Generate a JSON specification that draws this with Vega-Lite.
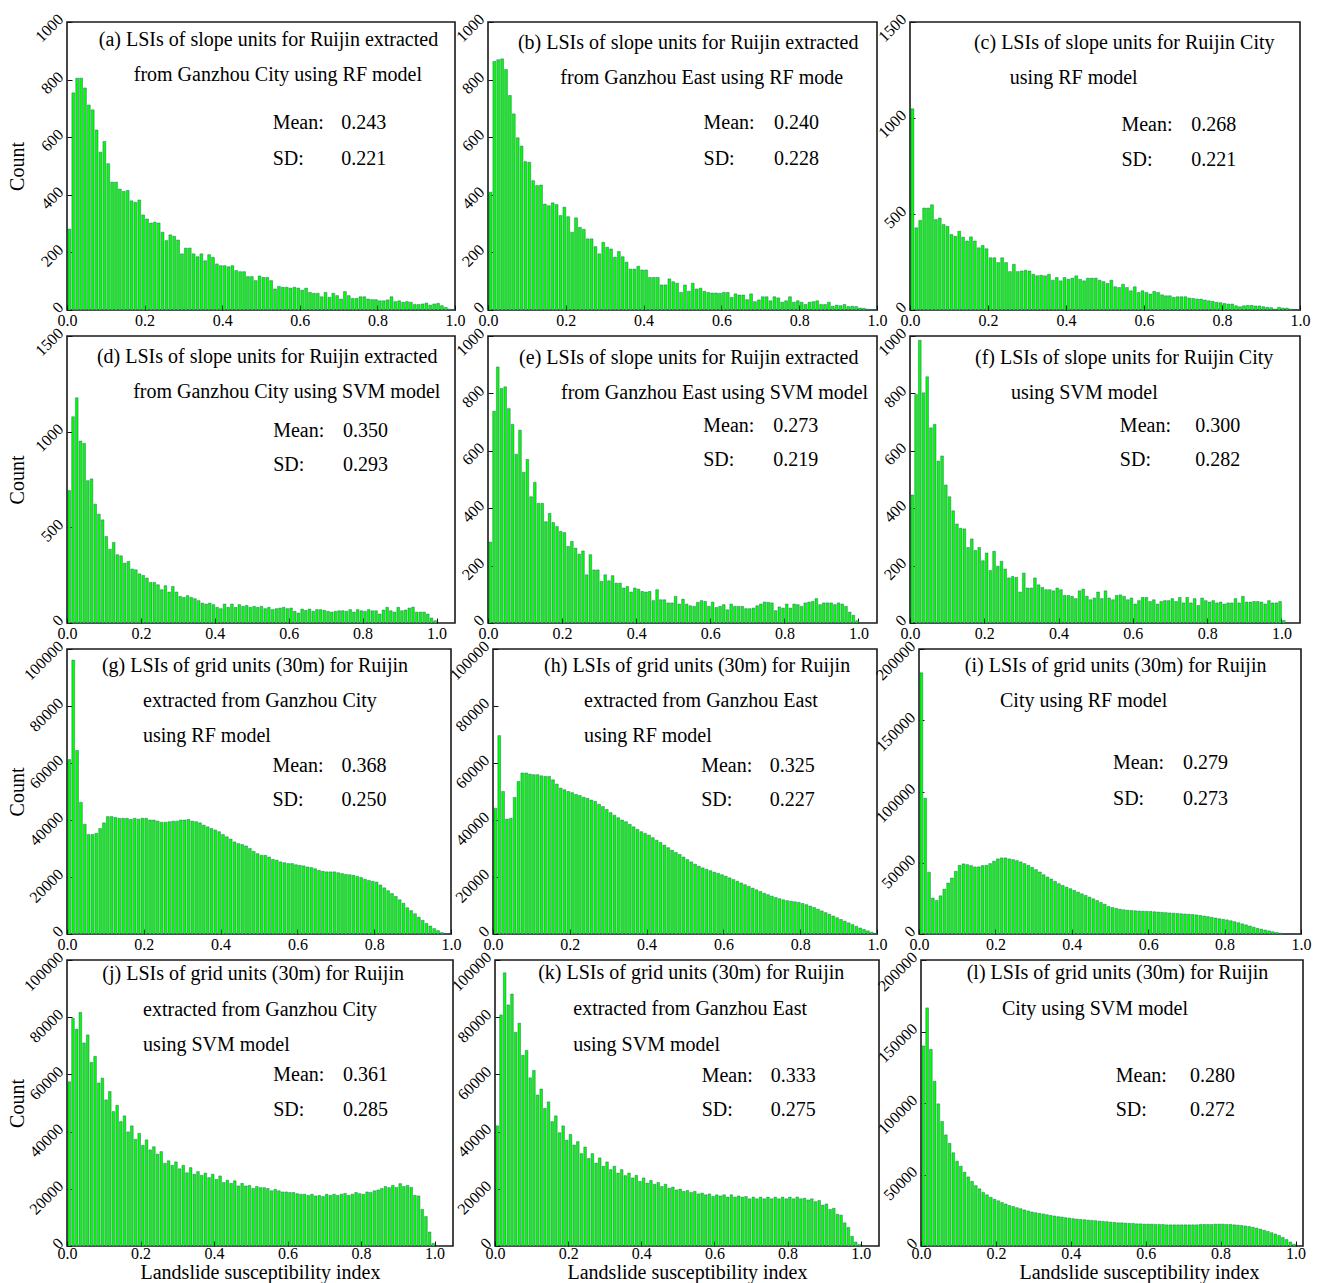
{
  "$schema": "https://vega.github.io/schema/vega-lite/v6.json",
  "background": "white",
  "padding": {"left": 6, "top": 9, "right": 5, "bottom": 2},
  "config": {
    "font": "Liberation Serif",
    "view": {"stroke": "#1a1a1a", "strokeWidth": 1.6},
    "axis": {"grid": false, "domain": false, "tickColor": "#111111", "tickSize": -5, "tickWidth": 1, "labelFontSize": 16, "labelColor": "#000000", "labelFont": "Liberation Serif", "titleFont": "Liberation Serif", "titleFontSize": 20, "titleFontWeight": "normal", "titleColor": "#000000", "labelFlush": false, "labelOverlap": false},
    "axisX": {"labelPadding": 7},
    "axisY": {"labelAngle": -45, "labelAlign": "right", "labelBaseline": "bottom", "labelPadding": 6},
    "bar": {"fill": "#00ff00", "stroke": "#2a3f80", "strokeWidth": 0.4},
    "text": {"font": "Liberation Serif", "fontSize": 20, "align": "left", "baseline": "middle", "color": "#000000"}
  },
  "datasets": {
    "a": [{"x":0.00,"n":281},{"x":0.01,"n":754},{"x":0.02,"n":805},{"x":0.03,"n":805},{"x":0.04,"n":771},{"x":0.05,"n":712},{"x":0.06,"n":695},{"x":0.07,"n":625},{"x":0.08,"n":548},{"x":0.09,"n":585},
          {"x":0.10,"n":508},{"x":0.11,"n":444},{"x":0.12,"n":444},{"x":0.13,"n":420},{"x":0.14,"n":412},{"x":0.15,"n":415},{"x":0.16,"n":379},{"x":0.17,"n":374},{"x":0.18,"n":382},{"x":0.19,"n":330},
          {"x":0.20,"n":316},{"x":0.21,"n":302},{"x":0.22,"n":305},{"x":0.23,"n":302},{"x":0.24,"n":270},{"x":0.25,"n":241},{"x":0.26,"n":261},{"x":0.27,"n":256},{"x":0.28,"n":243},{"x":0.29,"n":195},
          {"x":0.30,"n":215},{"x":0.31,"n":215},{"x":0.32,"n":195},{"x":0.33,"n":185},{"x":0.34,"n":195},{"x":0.35,"n":171},{"x":0.36,"n":192},{"x":0.37,"n":183},{"x":0.38,"n":160},{"x":0.39,"n":154},
          {"x":0.40,"n":154},{"x":0.41,"n":150},{"x":0.42,"n":154},{"x":0.43,"n":137},{"x":0.44,"n":133},{"x":0.45,"n":133},{"x":0.46,"n":116},{"x":0.47,"n":116},{"x":0.48,"n":102},{"x":0.49,"n":118},
          {"x":0.50,"n":113},{"x":0.51,"n":113},{"x":0.52,"n":102},{"x":0.53,"n":73},{"x":0.54,"n":82},{"x":0.55,"n":79},{"x":0.56,"n":79},{"x":0.57,"n":76},{"x":0.58,"n":79},{"x":0.59,"n":76},
          {"x":0.60,"n":69},{"x":0.61,"n":76},{"x":0.62,"n":61},{"x":0.63,"n":58},{"x":0.64,"n":58},{"x":0.65,"n":46},{"x":0.66,"n":61},{"x":0.67,"n":44},{"x":0.68,"n":58},{"x":0.69,"n":50},
          {"x":0.70,"n":38},{"x":0.71,"n":64},{"x":0.72,"n":50},{"x":0.73,"n":40},{"x":0.74,"n":40},{"x":0.75,"n":46},{"x":0.76,"n":46},{"x":0.77,"n":38},{"x":0.78,"n":36},{"x":0.79,"n":36},
          {"x":0.80,"n":32},{"x":0.81,"n":32},{"x":0.82,"n":35},{"x":0.83,"n":46},{"x":0.84,"n":29},{"x":0.85,"n":32},{"x":0.86,"n":27},{"x":0.87,"n":29},{"x":0.88,"n":27},{"x":0.89,"n":19},
          {"x":0.90,"n":19},{"x":0.91,"n":21},{"x":0.92,"n":24},{"x":0.93,"n":17},{"x":0.94,"n":21},{"x":0.95,"n":23},{"x":0.96,"n":15},{"x":0.97,"n":9},{"x":0.98,"n":3},{"x":0.99,"n":1}],
    "b": [{"x":0.00,"n":409},{"x":0.01,"n":863},{"x":0.02,"n":869},{"x":0.03,"n":872},{"x":0.04,"n":835},{"x":0.05,"n":745},{"x":0.06,"n":681},{"x":0.07,"n":598},{"x":0.08,"n":569},{"x":0.09,"n":515},
          {"x":0.10,"n":513},{"x":0.11,"n":449},{"x":0.12,"n":432},{"x":0.13,"n":434},{"x":0.14,"n":368},{"x":0.15,"n":362},{"x":0.16,"n":372},{"x":0.17,"n":366},{"x":0.18,"n":328},{"x":0.19,"n":357},
          {"x":0.20,"n":324},{"x":0.21,"n":270},{"x":0.22,"n":320},{"x":0.23,"n":287},{"x":0.24,"n":280},{"x":0.25,"n":247},{"x":0.26,"n":247},{"x":0.27,"n":220},{"x":0.28,"n":195},{"x":0.29,"n":235},
          {"x":0.30,"n":218},{"x":0.31,"n":212},{"x":0.32,"n":183},{"x":0.33,"n":203},{"x":0.34,"n":185},{"x":0.35,"n":166},{"x":0.36,"n":142},{"x":0.37,"n":142},{"x":0.38,"n":152},{"x":0.39,"n":139},
          {"x":0.40,"n":139},{"x":0.41,"n":113},{"x":0.42,"n":113},{"x":0.43,"n":113},{"x":0.44,"n":87},{"x":0.45,"n":87},{"x":0.46,"n":108},{"x":0.47,"n":98},{"x":0.48,"n":93},{"x":0.49,"n":61},
          {"x":0.50,"n":87},{"x":0.51,"n":65},{"x":0.52,"n":93},{"x":0.53,"n":73},{"x":0.54,"n":76},{"x":0.55,"n":65},{"x":0.56,"n":61},{"x":0.57,"n":59},{"x":0.58,"n":59},{"x":0.59,"n":58},
          {"x":0.60,"n":61},{"x":0.61,"n":61},{"x":0.62,"n":44},{"x":0.63,"n":56},{"x":0.64,"n":52},{"x":0.65,"n":52},{"x":0.66,"n":36},{"x":0.67,"n":56},{"x":0.68,"n":29},{"x":0.69,"n":35},
          {"x":0.70,"n":46},{"x":0.71,"n":46},{"x":0.72,"n":32},{"x":0.73,"n":46},{"x":0.74,"n":42},{"x":0.75,"n":27},{"x":0.76,"n":32},{"x":0.77,"n":46},{"x":0.78,"n":27},{"x":0.79,"n":32},
          {"x":0.80,"n":27},{"x":0.81,"n":19},{"x":0.82,"n":27},{"x":0.83,"n":29},{"x":0.84,"n":32},{"x":0.85,"n":19},{"x":0.86,"n":19},{"x":0.87,"n":27},{"x":0.88,"n":13},{"x":0.89,"n":17},
          {"x":0.90,"n":15},{"x":0.91,"n":19},{"x":0.92,"n":12},{"x":0.93,"n":13},{"x":0.94,"n":12},{"x":0.95,"n":7},{"x":0.96,"n":6},{"x":0.97,"n":3},{"x":0.98,"n":2},{"x":0.99,"n":1}],
    "c": [{"x":0.00,"n":1048},{"x":0.01,"n":428},{"x":0.02,"n":467},{"x":0.03,"n":531},{"x":0.04,"n":531},{"x":0.05,"n":548},{"x":0.06,"n":471},{"x":0.07,"n":479},{"x":0.08,"n":445},{"x":0.09,"n":436},
          {"x":0.10,"n":393},{"x":0.11,"n":384},{"x":0.12,"n":410},{"x":0.13,"n":379},{"x":0.14,"n":359},{"x":0.15,"n":381},{"x":0.16,"n":359},{"x":0.17,"n":324},{"x":0.18,"n":336},{"x":0.19,"n":319},
          {"x":0.20,"n":272},{"x":0.21,"n":272},{"x":0.22,"n":247},{"x":0.23,"n":272},{"x":0.24,"n":247},{"x":0.25,"n":200},{"x":0.26,"n":238},{"x":0.27,"n":200},{"x":0.28,"n":203},{"x":0.29,"n":207},
          {"x":0.30,"n":203},{"x":0.31,"n":186},{"x":0.32,"n":178},{"x":0.33,"n":181},{"x":0.34,"n":178},{"x":0.35,"n":186},{"x":0.36,"n":155},{"x":0.37,"n":169},{"x":0.38,"n":152},{"x":0.39,"n":169},
          {"x":0.40,"n":160},{"x":0.41,"n":166},{"x":0.42,"n":178},{"x":0.43,"n":160},{"x":0.44,"n":152},{"x":0.45,"n":166},{"x":0.46,"n":166},{"x":0.47,"n":166},{"x":0.48,"n":155},{"x":0.49,"n":148},
          {"x":0.50,"n":138},{"x":0.51,"n":155},{"x":0.52,"n":121},{"x":0.53,"n":117},{"x":0.54,"n":134},{"x":0.55,"n":117},{"x":0.56,"n":100},{"x":0.57,"n":121},{"x":0.58,"n":91},{"x":0.59,"n":100},
          {"x":0.60,"n":91},{"x":0.61,"n":83},{"x":0.62,"n":97},{"x":0.63,"n":91},{"x":0.64,"n":79},{"x":0.65,"n":74},{"x":0.66,"n":74},{"x":0.67,"n":66},{"x":0.68,"n":69},{"x":0.69,"n":69},
          {"x":0.70,"n":69},{"x":0.71,"n":62},{"x":0.72,"n":60},{"x":0.73,"n":57},{"x":0.74,"n":57},{"x":0.75,"n":52},{"x":0.76,"n":48},{"x":0.77,"n":45},{"x":0.78,"n":40},{"x":0.79,"n":38},
          {"x":0.80,"n":34},{"x":0.81,"n":31},{"x":0.82,"n":31},{"x":0.83,"n":22},{"x":0.84,"n":17},{"x":0.85,"n":22},{"x":0.86,"n":24},{"x":0.87,"n":24},{"x":0.88,"n":21},{"x":0.89,"n":21},
          {"x":0.90,"n":17},{"x":0.91,"n":14},{"x":0.92,"n":12},{"x":0.93,"n":5},{"x":0.94,"n":14},{"x":0.95,"n":10},{"x":0.96,"n":10},{"x":0.97,"n":5},{"x":0.98,"n":2},{"x":0.99,"n":2}],
    "d": [{"x":0.00,"n":692},{"x":0.01,"n":1078},{"x":0.02,"n":1177},{"x":0.03,"n":951},{"x":0.04,"n":939},{"x":0.05,"n":744},{"x":0.06,"n":753},{"x":0.07,"n":621},{"x":0.08,"n":569},{"x":0.09,"n":539},
          {"x":0.10,"n":452},{"x":0.11,"n":386},{"x":0.12,"n":421},{"x":0.13,"n":357},{"x":0.14,"n":351},{"x":0.15,"n":313},{"x":0.16,"n":322},{"x":0.17,"n":282},{"x":0.18,"n":278},{"x":0.19,"n":257},
          {"x":0.20,"n":249},{"x":0.21,"n":235},{"x":0.22,"n":212},{"x":0.23,"n":212},{"x":0.24,"n":200},{"x":0.25,"n":174},{"x":0.26,"n":195},{"x":0.27,"n":162},{"x":0.28,"n":191},{"x":0.29,"n":162},
          {"x":0.30,"n":139},{"x":0.31,"n":134},{"x":0.32,"n":143},{"x":0.33,"n":134},{"x":0.34,"n":127},{"x":0.35,"n":117},{"x":0.36,"n":104},{"x":0.37,"n":99},{"x":0.38,"n":104},{"x":0.39,"n":96},
          {"x":0.40,"n":82},{"x":0.41,"n":75},{"x":0.42,"n":99},{"x":0.43,"n":82},{"x":0.44,"n":99},{"x":0.45,"n":82},{"x":0.46,"n":96},{"x":0.47,"n":87},{"x":0.48,"n":92},{"x":0.49,"n":82},
          {"x":0.50,"n":87},{"x":0.51,"n":82},{"x":0.52,"n":87},{"x":0.53,"n":75},{"x":0.54,"n":82},{"x":0.55,"n":70},{"x":0.56,"n":75},{"x":0.57,"n":78},{"x":0.58,"n":82},{"x":0.59,"n":75},
          {"x":0.60,"n":78},{"x":0.61,"n":61},{"x":0.62,"n":52},{"x":0.63,"n":73},{"x":0.64,"n":66},{"x":0.65,"n":73},{"x":0.66,"n":61},{"x":0.67,"n":70},{"x":0.68,"n":70},{"x":0.69,"n":66},
          {"x":0.70,"n":61},{"x":0.71,"n":57},{"x":0.72,"n":61},{"x":0.73,"n":64},{"x":0.74,"n":64},{"x":0.75,"n":61},{"x":0.76,"n":70},{"x":0.77,"n":57},{"x":0.78,"n":70},{"x":0.79,"n":64},
          {"x":0.80,"n":61},{"x":0.81,"n":70},{"x":0.82,"n":64},{"x":0.83,"n":64},{"x":0.84,"n":47},{"x":0.85,"n":68},{"x":0.86,"n":82},{"x":0.87,"n":64},{"x":0.88,"n":57},{"x":0.89,"n":82},
          {"x":0.90,"n":64},{"x":0.91,"n":68},{"x":0.92,"n":78},{"x":0.93,"n":83},{"x":0.94,"n":57},{"x":0.95,"n":57},{"x":0.96,"n":57},{"x":0.97,"n":47},{"x":0.98,"n":26},{"x":0.99,"n":12}],
    "e": [{"x":0.00,"n":282},{"x":0.01,"n":738},{"x":0.02,"n":892},{"x":0.03,"n":817},{"x":0.04,"n":823},{"x":0.05,"n":747},{"x":0.06,"n":692},{"x":0.07,"n":588},{"x":0.08,"n":672},{"x":0.09,"n":525},
          {"x":0.10,"n":570},{"x":0.11,"n":440},{"x":0.12,"n":490},{"x":0.13,"n":417},{"x":0.14,"n":417},{"x":0.15,"n":353},{"x":0.16,"n":382},{"x":0.17,"n":350},{"x":0.18,"n":336},{"x":0.19,"n":319},
          {"x":0.20,"n":315},{"x":0.21,"n":267},{"x":0.22,"n":284},{"x":0.23,"n":261},{"x":0.24,"n":240},{"x":0.25,"n":251},{"x":0.26,"n":168},{"x":0.27,"n":238},{"x":0.28,"n":185},{"x":0.29,"n":185},
          {"x":0.30,"n":145},{"x":0.31,"n":168},{"x":0.32,"n":147},{"x":0.33,"n":165},{"x":0.34,"n":139},{"x":0.35,"n":139},{"x":0.36,"n":122},{"x":0.37,"n":127},{"x":0.38,"n":108},{"x":0.39,"n":122},
          {"x":0.40,"n":118},{"x":0.41,"n":110},{"x":0.42,"n":108},{"x":0.43,"n":110},{"x":0.44,"n":78},{"x":0.45,"n":116},{"x":0.46,"n":81},{"x":0.47,"n":81},{"x":0.48,"n":70},{"x":0.49,"n":70},
          {"x":0.50,"n":93},{"x":0.51,"n":66},{"x":0.52,"n":83},{"x":0.53,"n":66},{"x":0.54,"n":60},{"x":0.55,"n":58},{"x":0.56,"n":72},{"x":0.57,"n":78},{"x":0.58,"n":75},{"x":0.59,"n":58},
          {"x":0.60,"n":73},{"x":0.61,"n":54},{"x":0.62,"n":58},{"x":0.63,"n":64},{"x":0.64,"n":46},{"x":0.65,"n":66},{"x":0.66,"n":58},{"x":0.67,"n":58},{"x":0.68,"n":58},{"x":0.69,"n":50},
          {"x":0.70,"n":50},{"x":0.71,"n":52},{"x":0.72,"n":60},{"x":0.73,"n":66},{"x":0.74,"n":73},{"x":0.75,"n":72},{"x":0.76,"n":70},{"x":0.77,"n":43},{"x":0.78,"n":56},{"x":0.79,"n":52},
          {"x":0.80,"n":66},{"x":0.81,"n":52},{"x":0.82,"n":66},{"x":0.83,"n":64},{"x":0.84,"n":58},{"x":0.85,"n":70},{"x":0.86,"n":73},{"x":0.87,"n":75},{"x":0.88,"n":85},{"x":0.89,"n":64},
          {"x":0.90,"n":70},{"x":0.91,"n":70},{"x":0.92,"n":70},{"x":0.93,"n":64},{"x":0.94,"n":70},{"x":0.95,"n":66},{"x":0.96,"n":58},{"x":0.97,"n":38},{"x":0.98,"n":27},{"x":0.99,"n":8}],
    "f": [{"x":0.00,"n":446},{"x":0.01,"n":796},{"x":0.02,"n":985},{"x":0.03,"n":802},{"x":0.04,"n":858},{"x":0.05,"n":680},{"x":0.06,"n":692},{"x":0.07,"n":564},{"x":0.08,"n":582},{"x":0.09,"n":481},
          {"x":0.10,"n":440},{"x":0.11,"n":391},{"x":0.12,"n":345},{"x":0.13,"n":330},{"x":0.14,"n":328},{"x":0.15,"n":263},{"x":0.16,"n":293},{"x":0.17,"n":253},{"x":0.18,"n":263},{"x":0.19,"n":217},
          {"x":0.20,"n":244},{"x":0.21,"n":183},{"x":0.22,"n":250},{"x":0.23,"n":198},{"x":0.24,"n":215},{"x":0.25,"n":188},{"x":0.26,"n":157},{"x":0.27,"n":162},{"x":0.28,"n":159},{"x":0.29,"n":108},
          {"x":0.30,"n":174},{"x":0.31,"n":122},{"x":0.32,"n":122},{"x":0.33,"n":157},{"x":0.34,"n":133},{"x":0.35,"n":124},{"x":0.36,"n":116},{"x":0.37,"n":116},{"x":0.38,"n":112},{"x":0.39,"n":122},
          {"x":0.40,"n":116},{"x":0.41,"n":96},{"x":0.42,"n":96},{"x":0.43,"n":93},{"x":0.44,"n":85},{"x":0.45,"n":112},{"x":0.46,"n":118},{"x":0.47,"n":93},{"x":0.48,"n":81},{"x":0.49,"n":87},
          {"x":0.50,"n":108},{"x":0.51,"n":85},{"x":0.52,"n":112},{"x":0.53,"n":87},{"x":0.54,"n":81},{"x":0.55,"n":96},{"x":0.56,"n":98},{"x":0.57,"n":93},{"x":0.58,"n":81},{"x":0.59,"n":87},
          {"x":0.60,"n":66},{"x":0.61,"n":78},{"x":0.62,"n":89},{"x":0.63,"n":89},{"x":0.64,"n":75},{"x":0.65,"n":81},{"x":0.66,"n":66},{"x":0.67,"n":75},{"x":0.68,"n":78},{"x":0.69,"n":78},
          {"x":0.70,"n":85},{"x":0.71,"n":75},{"x":0.72,"n":89},{"x":0.73,"n":70},{"x":0.74,"n":89},{"x":0.75,"n":70},{"x":0.76,"n":85},{"x":0.77,"n":61},{"x":0.78,"n":87},{"x":0.79,"n":78},
          {"x":0.80,"n":73},{"x":0.81,"n":78},{"x":0.82,"n":70},{"x":0.83,"n":73},{"x":0.84,"n":66},{"x":0.85,"n":70},{"x":0.86,"n":70},{"x":0.87,"n":85},{"x":0.88,"n":70},{"x":0.89,"n":93},
          {"x":0.90,"n":73},{"x":0.91,"n":73},{"x":0.92,"n":75},{"x":0.93,"n":75},{"x":0.94,"n":73},{"x":0.95,"n":66},{"x":0.96,"n":78},{"x":0.97,"n":70},{"x":0.98,"n":70},{"x":0.99,"n":75},{"x":1.00,"n":9}],
    "g": [{"x":0.00,"n":61200},{"x":0.01,"n":96100},{"x":0.02,"n":64400},{"x":0.03,"n":46200},{"x":0.04,"n":38500},{"x":0.05,"n":34900},{"x":0.06,"n":34900},{"x":0.07,"n":35300},{"x":0.08,"n":37000},{"x":0.09,"n":39000},
          {"x":0.10,"n":41200},{"x":0.11,"n":41200},{"x":0.12,"n":40900},{"x":0.13,"n":40600},{"x":0.14,"n":40600},{"x":0.15,"n":40600},{"x":0.16,"n":40200},{"x":0.17,"n":40600},{"x":0.18,"n":40300},{"x":0.19,"n":40600},
          {"x":0.20,"n":40600},{"x":0.21,"n":40000},{"x":0.22,"n":40000},{"x":0.23,"n":39600},{"x":0.24,"n":39200},{"x":0.25,"n":39200},{"x":0.26,"n":39400},{"x":0.27,"n":39600},{"x":0.28,"n":39600},{"x":0.29,"n":40000},
          {"x":0.30,"n":40000},{"x":0.31,"n":40200},{"x":0.32,"n":39600},{"x":0.33,"n":39400},{"x":0.34,"n":39000},{"x":0.35,"n":38200},{"x":0.36,"n":37600},{"x":0.37,"n":37000},{"x":0.38,"n":36500},{"x":0.39,"n":35900},
          {"x":0.40,"n":34900},{"x":0.41,"n":34100},{"x":0.42,"n":33300},{"x":0.43,"n":32300},{"x":0.44,"n":31700},{"x":0.45,"n":31400},{"x":0.46,"n":30900},{"x":0.47,"n":30000},{"x":0.48,"n":29000},{"x":0.49,"n":28200},
          {"x":0.50,"n":27600},{"x":0.51,"n":27600},{"x":0.52,"n":27000},{"x":0.53,"n":26200},{"x":0.54,"n":25900},{"x":0.55,"n":25300},{"x":0.56,"n":25000},{"x":0.57,"n":24700},{"x":0.58,"n":24700},{"x":0.59,"n":24300},
          {"x":0.60,"n":24100},{"x":0.61,"n":23900},{"x":0.62,"n":23500},{"x":0.63,"n":23300},{"x":0.64,"n":22900},{"x":0.65,"n":22300},{"x":0.66,"n":22000},{"x":0.67,"n":21800},{"x":0.68,"n":21800},{"x":0.69,"n":21800},
          {"x":0.70,"n":21500},{"x":0.71,"n":21200},{"x":0.72,"n":20900},{"x":0.73,"n":20800},{"x":0.74,"n":20600},{"x":0.75,"n":20200},{"x":0.76,"n":19800},{"x":0.77,"n":19200},{"x":0.78,"n":18800},{"x":0.79,"n":18500},
          {"x":0.80,"n":18200},{"x":0.81,"n":17200},{"x":0.82,"n":16200},{"x":0.83,"n":15200},{"x":0.84,"n":14200},{"x":0.85,"n":13200},{"x":0.86,"n":12000},{"x":0.87,"n":10800},{"x":0.88,"n":9200},{"x":0.89,"n":8200},
          {"x":0.90,"n":7100},{"x":0.91,"n":5900},{"x":0.92,"n":4800},{"x":0.93,"n":3700},{"x":0.94,"n":2800},{"x":0.95,"n":1900},{"x":0.96,"n":1200},{"x":0.97,"n":500},{"x":0.98,"n":100},{"x":0.99,"n":0}],
    "h": [{"x":0.00,"n":44100},{"x":0.01,"n":69600},{"x":0.02,"n":50000},{"x":0.03,"n":40300},{"x":0.04,"n":40600},{"x":0.05,"n":47900},{"x":0.06,"n":53500},{"x":0.07,"n":56500},{"x":0.08,"n":56500},{"x":0.09,"n":56100},
          {"x":0.10,"n":55900},{"x":0.11,"n":55900},{"x":0.12,"n":55500},{"x":0.13,"n":55300},{"x":0.14,"n":55300},{"x":0.15,"n":54100},{"x":0.16,"n":52600},{"x":0.17,"n":51200},{"x":0.18,"n":50600},{"x":0.19,"n":50000},
          {"x":0.20,"n":49600},{"x":0.21,"n":49000},{"x":0.22,"n":48600},{"x":0.23,"n":48000},{"x":0.24,"n":47600},{"x":0.25,"n":47000},{"x":0.26,"n":46500},{"x":0.27,"n":45500},{"x":0.28,"n":44700},{"x":0.29,"n":43700},
          {"x":0.30,"n":42600},{"x":0.31,"n":41700},{"x":0.32,"n":40800},{"x":0.33,"n":40000},{"x":0.34,"n":39400},{"x":0.35,"n":38500},{"x":0.36,"n":37600},{"x":0.37,"n":36700},{"x":0.38,"n":35900},{"x":0.39,"n":35300},
          {"x":0.40,"n":34700},{"x":0.41,"n":33800},{"x":0.42,"n":32900},{"x":0.43,"n":32100},{"x":0.44,"n":31200},{"x":0.45,"n":30300},{"x":0.46,"n":29400},{"x":0.47,"n":28600},{"x":0.48,"n":27900},{"x":0.49,"n":27000},
          {"x":0.50,"n":26100},{"x":0.51,"n":25300},{"x":0.52,"n":24500},{"x":0.53,"n":23800},{"x":0.54,"n":23200},{"x":0.55,"n":22700},{"x":0.56,"n":22200},{"x":0.57,"n":21700},{"x":0.58,"n":21300},{"x":0.59,"n":20800},
          {"x":0.60,"n":20300},{"x":0.61,"n":19700},{"x":0.62,"n":19100},{"x":0.63,"n":18500},{"x":0.64,"n":17900},{"x":0.65,"n":17300},{"x":0.66,"n":16700},{"x":0.67,"n":16100},{"x":0.68,"n":15500},{"x":0.69,"n":14900},
          {"x":0.70,"n":14300},{"x":0.71,"n":13800},{"x":0.72,"n":13300},{"x":0.73,"n":12800},{"x":0.74,"n":12400},{"x":0.75,"n":12000},{"x":0.76,"n":11700},{"x":0.77,"n":11500},{"x":0.78,"n":11300},{"x":0.79,"n":11100},
          {"x":0.80,"n":10700},{"x":0.81,"n":10300},{"x":0.82,"n":9800},{"x":0.83,"n":9300},{"x":0.84,"n":8700},{"x":0.85,"n":8100},{"x":0.86,"n":7500},{"x":0.87,"n":6900},{"x":0.88,"n":6300},{"x":0.89,"n":5700},
          {"x":0.90,"n":5100},{"x":0.91,"n":4500},{"x":0.92,"n":3900},{"x":0.93,"n":3300},{"x":0.94,"n":2700},{"x":0.95,"n":2100},{"x":0.96,"n":1600},{"x":0.97,"n":1100},{"x":0.98,"n":600},{"x":0.99,"n":200}],
    "i": [{"x":0.00,"n":183300},{"x":0.01,"n":95300},{"x":0.02,"n":43300},{"x":0.03,"n":25200},{"x":0.04,"n":23500},{"x":0.05,"n":26800},{"x":0.06,"n":31500},{"x":0.07,"n":35800},{"x":0.08,"n":39300},{"x":0.09,"n":44000},
          {"x":0.10,"n":48200},{"x":0.11,"n":49200},{"x":0.12,"n":48700},{"x":0.13,"n":48000},{"x":0.14,"n":47100},{"x":0.15,"n":47100},{"x":0.16,"n":48000},{"x":0.17,"n":48200},{"x":0.18,"n":49400},{"x":0.19,"n":51100},
          {"x":0.20,"n":52700},{"x":0.21,"n":53400},{"x":0.22,"n":53400},{"x":0.23,"n":52700},{"x":0.24,"n":52200},{"x":0.25,"n":51500},{"x":0.26,"n":50600},{"x":0.27,"n":49400},{"x":0.28,"n":48200},{"x":0.29,"n":46800},
          {"x":0.30,"n":45200},{"x":0.31,"n":43500},{"x":0.32,"n":41600},{"x":0.33,"n":40000},{"x":0.34,"n":38600},{"x":0.35,"n":36900},{"x":0.36,"n":35300},{"x":0.37,"n":34100},{"x":0.38,"n":32900},{"x":0.39,"n":31800},
          {"x":0.40,"n":30600},{"x":0.41,"n":29400},{"x":0.42,"n":28200},{"x":0.43,"n":27100},{"x":0.44,"n":25900},{"x":0.45,"n":24700},{"x":0.46,"n":23500},{"x":0.47,"n":22100},{"x":0.48,"n":20900},{"x":0.49,"n":19300},
          {"x":0.50,"n":18600},{"x":0.51,"n":18000},{"x":0.52,"n":17400},{"x":0.53,"n":17000},{"x":0.54,"n":16700},{"x":0.55,"n":16500},{"x":0.56,"n":16300},{"x":0.57,"n":16100},{"x":0.58,"n":16000},{"x":0.59,"n":15900},
          {"x":0.60,"n":15800},{"x":0.61,"n":15600},{"x":0.62,"n":15400},{"x":0.63,"n":15200},{"x":0.64,"n":15000},{"x":0.65,"n":14800},{"x":0.66,"n":14600},{"x":0.67,"n":14400},{"x":0.68,"n":14200},{"x":0.69,"n":14000},
          {"x":0.70,"n":13900},{"x":0.71,"n":13700},{"x":0.72,"n":13400},{"x":0.73,"n":13000},{"x":0.74,"n":12600},{"x":0.75,"n":12200},{"x":0.76,"n":11700},{"x":0.77,"n":11200},{"x":0.78,"n":10700},{"x":0.79,"n":10300},
          {"x":0.80,"n":9900},{"x":0.81,"n":9300},{"x":0.82,"n":8600},{"x":0.83,"n":7900},{"x":0.84,"n":7100},{"x":0.85,"n":6400},{"x":0.86,"n":5600},{"x":0.87,"n":4800},{"x":0.88,"n":4000},{"x":0.89,"n":3400},
          {"x":0.90,"n":2800},{"x":0.91,"n":2200},{"x":0.92,"n":1600},{"x":0.93,"n":1100},{"x":0.94,"n":600},{"x":0.95,"n":200},{"x":0.96,"n":0},{"x":0.97,"n":0},{"x":0.98,"n":0},{"x":0.99,"n":0}],
    "j": [{"x":0.00,"n":57400},{"x":0.01,"n":79600},{"x":0.02,"n":75800},{"x":0.03,"n":81700},{"x":0.04,"n":71000},{"x":0.05,"n":73800},{"x":0.06,"n":64200},{"x":0.07,"n":66300},{"x":0.08,"n":57000},{"x":0.09,"n":58700},
          {"x":0.10,"n":51100},{"x":0.11,"n":54000},{"x":0.12,"n":47000},{"x":0.13,"n":49200},{"x":0.14,"n":43500},{"x":0.15,"n":45500},{"x":0.16,"n":39900},{"x":0.17,"n":42000},{"x":0.18,"n":37300},{"x":0.19,"n":39400},
          {"x":0.20,"n":35200},{"x":0.21,"n":37100},{"x":0.22,"n":33600},{"x":0.23,"n":34700},{"x":0.24,"n":32100},{"x":0.25,"n":33000},{"x":0.26,"n":28900},{"x":0.27,"n":29800},{"x":0.28,"n":28200},{"x":0.29,"n":29400},
          {"x":0.30,"n":27000},{"x":0.31,"n":28200},{"x":0.32,"n":25600},{"x":0.33,"n":27400},{"x":0.34,"n":25100},{"x":0.35,"n":26000},{"x":0.36,"n":24700},{"x":0.37,"n":25500},{"x":0.38,"n":23900},{"x":0.39,"n":25100},
          {"x":0.40,"n":23300},{"x":0.41,"n":24500},{"x":0.42,"n":22200},{"x":0.43,"n":23000},{"x":0.44,"n":21900},{"x":0.45,"n":22800},{"x":0.46,"n":21000},{"x":0.47,"n":21900},{"x":0.48,"n":21000},{"x":0.49,"n":21200},
          {"x":0.50,"n":20100},{"x":0.51,"n":20800},{"x":0.52,"n":20400},{"x":0.53,"n":20400},{"x":0.54,"n":20100},{"x":0.55,"n":19300},{"x":0.56,"n":19800},{"x":0.57,"n":19300},{"x":0.58,"n":18900},{"x":0.59,"n":18900},
          {"x":0.60,"n":18700},{"x":0.61,"n":18700},{"x":0.62,"n":18300},{"x":0.63,"n":18100},{"x":0.64,"n":18100},{"x":0.65,"n":17700},{"x":0.66,"n":18100},{"x":0.67,"n":17500},{"x":0.68,"n":17700},{"x":0.69,"n":17300},
          {"x":0.70,"n":18100},{"x":0.71,"n":17700},{"x":0.72,"n":18100},{"x":0.73,"n":17700},{"x":0.74,"n":18100},{"x":0.75,"n":18400},{"x":0.76,"n":17700},{"x":0.77,"n":18100},{"x":0.78,"n":18700},{"x":0.79,"n":18300},
          {"x":0.80,"n":18100},{"x":0.81,"n":18900},{"x":0.82,"n":18700},{"x":0.83,"n":19300},{"x":0.84,"n":19600},{"x":0.85,"n":20100},{"x":0.86,"n":20800},{"x":0.87,"n":20400},{"x":0.88,"n":21200},{"x":0.89,"n":20500},
          {"x":0.90,"n":21800},{"x":0.91,"n":20800},{"x":0.92,"n":21200},{"x":0.93,"n":20500},{"x":0.94,"n":17700},{"x":0.95,"n":17500},{"x":0.96,"n":12800},{"x":0.97,"n":10300},{"x":0.98,"n":4900},{"x":0.99,"n":900}],
    "k": [{"x":0.00,"n":42000},{"x":0.01,"n":80800},{"x":0.02,"n":95500},{"x":0.03,"n":84300},{"x":0.04,"n":88100},{"x":0.05,"n":74700},{"x":0.06,"n":77900},{"x":0.07,"n":66700},{"x":0.08,"n":68400},{"x":0.09,"n":58800},
          {"x":0.10,"n":61400},{"x":0.11,"n":52800},{"x":0.12,"n":54900},{"x":0.13,"n":48100},{"x":0.14,"n":50400},{"x":0.15,"n":43500},{"x":0.16,"n":45500},{"x":0.17,"n":39600},{"x":0.18,"n":42000},{"x":0.19,"n":37000},
          {"x":0.20,"n":39000},{"x":0.21,"n":35300},{"x":0.22,"n":36500},{"x":0.23,"n":32300},{"x":0.24,"n":34600},{"x":0.25,"n":30600},{"x":0.26,"n":32300},{"x":0.27,"n":29000},{"x":0.28,"n":30800},{"x":0.29,"n":27900},
          {"x":0.30,"n":29400},{"x":0.31,"n":26700},{"x":0.32,"n":27900},{"x":0.33,"n":25500},{"x":0.34,"n":26700},{"x":0.35,"n":24600},{"x":0.36,"n":25500},{"x":0.37,"n":23800},{"x":0.38,"n":24700},{"x":0.39,"n":22600},
          {"x":0.40,"n":23800},{"x":0.41,"n":22000},{"x":0.42,"n":22900},{"x":0.43,"n":21600},{"x":0.44,"n":22200},{"x":0.45,"n":20800},{"x":0.46,"n":21600},{"x":0.47,"n":20200},{"x":0.48,"n":20600},{"x":0.49,"n":19600},
          {"x":0.50,"n":19900},{"x":0.51,"n":19100},{"x":0.52,"n":19400},{"x":0.53,"n":18700},{"x":0.54,"n":19100},{"x":0.55,"n":18200},{"x":0.56,"n":18500},{"x":0.57,"n":17900},{"x":0.58,"n":18200},{"x":0.59,"n":17300},
          {"x":0.60,"n":17900},{"x":0.61,"n":17500},{"x":0.62,"n":17900},{"x":0.63,"n":17100},{"x":0.64,"n":17900},{"x":0.65,"n":17100},{"x":0.66,"n":17500},{"x":0.67,"n":17100},{"x":0.68,"n":17300},{"x":0.69,"n":16500},
          {"x":0.70,"n":17100},{"x":0.71,"n":16500},{"x":0.72,"n":17100},{"x":0.73,"n":16500},{"x":0.74,"n":17100},{"x":0.75,"n":16500},{"x":0.76,"n":17100},{"x":0.77,"n":16500},{"x":0.78,"n":17100},{"x":0.79,"n":16500},
          {"x":0.80,"n":17100},{"x":0.81,"n":16500},{"x":0.82,"n":17100},{"x":0.83,"n":16500},{"x":0.84,"n":16700},{"x":0.85,"n":16100},{"x":0.86,"n":16500},{"x":0.87,"n":15500},{"x":0.88,"n":15900},{"x":0.89,"n":14300},
          {"x":0.90,"n":14700},{"x":0.91,"n":12800},{"x":0.92,"n":13200},{"x":0.93,"n":11100},{"x":0.94,"n":10800},{"x":0.95,"n":8100},{"x":0.96,"n":6500},{"x":0.97,"n":3400},{"x":0.98,"n":1400},{"x":0.99,"n":500}],
    "l": [{"x":0.00,"n":139900},{"x":0.01,"n":166500},{"x":0.02,"n":137500},{"x":0.03,"n":115200},{"x":0.04,"n":99400},{"x":0.05,"n":87100},{"x":0.06,"n":77700},{"x":0.07,"n":71800},{"x":0.08,"n":65200},{"x":0.09,"n":59300},
          {"x":0.10,"n":55800},{"x":0.11,"n":51600},{"x":0.12,"n":48300},{"x":0.13,"n":45200},{"x":0.14,"n":42200},{"x":0.15,"n":40000},{"x":0.16,"n":37400},{"x":0.17,"n":35800},{"x":0.18,"n":34100},{"x":0.19,"n":32700},
          {"x":0.20,"n":31600},{"x":0.21,"n":30400},{"x":0.22,"n":29400},{"x":0.23,"n":28300},{"x":0.24,"n":27600},{"x":0.25,"n":26800},{"x":0.26,"n":26100},{"x":0.27,"n":25200},{"x":0.28,"n":24500},{"x":0.29,"n":23800},
          {"x":0.30,"n":23300},{"x":0.31,"n":22800},{"x":0.32,"n":22400},{"x":0.33,"n":21900},{"x":0.34,"n":21400},{"x":0.35,"n":21000},{"x":0.36,"n":20500},{"x":0.37,"n":20300},{"x":0.38,"n":19800},{"x":0.39,"n":19500},
          {"x":0.40,"n":19100},{"x":0.41,"n":18800},{"x":0.42,"n":18600},{"x":0.43,"n":18400},{"x":0.44,"n":18100},{"x":0.45,"n":17900},{"x":0.46,"n":17700},{"x":0.47,"n":17400},{"x":0.48,"n":17200},{"x":0.49,"n":17000},
          {"x":0.50,"n":16700},{"x":0.51,"n":16500},{"x":0.52,"n":16200},{"x":0.53,"n":16200},{"x":0.54,"n":16000},{"x":0.55,"n":15800},{"x":0.56,"n":15800},{"x":0.57,"n":15500},{"x":0.58,"n":15500},{"x":0.59,"n":15300},
          {"x":0.60,"n":15300},{"x":0.61,"n":15300},{"x":0.62,"n":15100},{"x":0.63,"n":15100},{"x":0.64,"n":15100},{"x":0.65,"n":14800},{"x":0.66,"n":14800},{"x":0.67,"n":14800},{"x":0.68,"n":14800},{"x":0.69,"n":14800},
          {"x":0.70,"n":14800},{"x":0.71,"n":14800},{"x":0.72,"n":14800},{"x":0.73,"n":14800},{"x":0.74,"n":15100},{"x":0.75,"n":15100},{"x":0.76,"n":15100},{"x":0.77,"n":15100},{"x":0.78,"n":15300},{"x":0.79,"n":15300},
          {"x":0.80,"n":15300},{"x":0.81,"n":15100},{"x":0.82,"n":15100},{"x":0.83,"n":14800},{"x":0.84,"n":14600},{"x":0.85,"n":14300},{"x":0.86,"n":14000},{"x":0.87,"n":13600},{"x":0.88,"n":13100},{"x":0.89,"n":12500},
          {"x":0.90,"n":11800},{"x":0.91,"n":11000},{"x":0.92,"n":10200},{"x":0.93,"n":9300},{"x":0.94,"n":8400},{"x":0.95,"n":7300},{"x":0.96,"n":6000},{"x":0.97,"n":4500},{"x":0.98,"n":2800},{"x":0.99,"n":1200}]
  },
  "columns": 1,
  "align": "none",
  "spacing": -6,
  "concat": [
    {
      "bounds": "flush", "spacing": 33,
      "hconcat": [
        {"width": 388, "height": 288, "layer": [
          {"data": {"name": "a"}, "mark": "bar", "encoding": {
            "x": {"field": "x", "type": "quantitative", "bin": {"binned": true, "step": 0.01}, "scale": {"domain": [0, 1]}, "axis": {"values": [0, 0.2, 0.4, 0.6, 0.8, 1], "format": ".1f", "title": null}},
            "y": {"field": "n", "type": "quantitative", "scale": {"domain": [0, 1000]}, "axis": {"values": [0, 200, 400, 600, 800, 1000], "format": "d", "title": "Count", "titleX": -40}}}},
          {"data": {"values": [
            {"t": "(a) LSIs of slope units for Ruijin extracted", "px": 0.082, "py": 937},
            {"t": "from Ganzhou City using RF model", "px": 0.172, "py": 815},
            {"t": "Mean:", "px": 0.53, "py": 648}, {"t": "0.243", "px": 0.707, "py": 648},
            {"t": "SD:", "px": 0.53, "py": 526}, {"t": "0.221", "px": 0.707, "py": 526}]},
           "mark": "text", "encoding": {"x": {"field": "px", "type": "quantitative", "scale": {"domain": [0, 1]}}, "y": {"field": "py", "type": "quantitative", "scale": {"domain": [0, 1000]}}, "text": {"field": "t"}}}
        ]},
        {"width": 389, "height": 288, "layer": [
          {"data": {"name": "b"}, "mark": "bar", "encoding": {
            "x": {"field": "x", "type": "quantitative", "bin": {"binned": true, "step": 0.01}, "scale": {"domain": [0, 1]}, "axis": {"values": [0, 0.2, 0.4, 0.6, 0.8, 1], "format": ".1f", "title": null}},
            "y": {"field": "n", "type": "quantitative", "scale": {"domain": [0, 1000]}, "axis": {"values": [0, 200, 400, 600, 800, 1000], "format": "d", "title": null}}}},
          {"data": {"values": [
            {"t": "(b) LSIs of slope units for Ruijin extracted", "px": 0.077, "py": 927},
            {"t": "from Ganzhou East using RF mode", "px": 0.186, "py": 805},
            {"t": "Mean:", "px": 0.554, "py": 648}, {"t": "0.240", "px": 0.735, "py": 648},
            {"t": "SD:", "px": 0.554, "py": 526}, {"t": "0.228", "px": 0.735, "py": 526}]},
           "mark": "text", "encoding": {"x": {"field": "px", "type": "quantitative", "scale": {"domain": [0, 1]}}, "y": {"field": "py", "type": "quantitative", "scale": {"domain": [0, 1000]}}, "text": {"field": "t"}}}
        ]},
        {"width": 390, "height": 288, "layer": [
          {"data": {"name": "c"}, "mark": "bar", "encoding": {
            "x": {"field": "x", "type": "quantitative", "bin": {"binned": true, "step": 0.01}, "scale": {"domain": [0, 1]}, "axis": {"values": [0, 0.2, 0.4, 0.6, 0.8, 1], "format": ".1f", "title": null}},
            "y": {"field": "n", "type": "quantitative", "scale": {"domain": [0, 1500]}, "axis": {"values": [0, 500, 1000, 1500], "format": "d", "title": null}}}},
          {"data": {"values": [
            {"t": "(c) LSIs of slope units for Ruijin City", "px": 0.164, "py": 1392},
            {"t": "using RF model", "px": 0.256, "py": 1210},
            {"t": "Mean:", "px": 0.542, "py": 962}, {"t": "0.268", "px": 0.721, "py": 962},
            {"t": "SD:", "px": 0.542, "py": 782}, {"t": "0.221", "px": 0.721, "py": 782}]},
           "mark": "text", "encoding": {"x": {"field": "px", "type": "quantitative", "scale": {"domain": [0, 1]}}, "y": {"field": "py", "type": "quantitative", "scale": {"domain": [0, 1500]}}, "text": {"field": "t"}}}
        ]}
      ]
    },
    {
      "bounds": "flush", "spacing": 33,
      "hconcat": [
        {"width": 388, "height": 287, "layer": [
          {"data": {"name": "d"}, "mark": "bar", "encoding": {
            "x": {"field": "x", "type": "quantitative", "bin": {"binned": true, "step": 0.01}, "scale": {"domain": [0, 1.05]}, "axis": {"values": [0, 0.2, 0.4, 0.6, 0.8, 1], "format": ".1f", "title": null}},
            "y": {"field": "n", "type": "quantitative", "scale": {"domain": [0, 1500]}, "axis": {"values": [0, 500, 1000, 1500], "format": "d", "title": "Count", "titleX": -40}}}},
          {"data": {"values": [
            {"t": "(d) LSIs of slope units for Ruijin extracted", "px": 0.081, "py": 1390},
            {"t": "from Ganzhou City using SVM model", "px": 0.179, "py": 1209},
            {"t": "Mean:", "px": 0.558, "py": 1006}, {"t": "0.350", "px": 0.747, "py": 1006},
            {"t": "SD:", "px": 0.558, "py": 825}, {"t": "0.293", "px": 0.747, "py": 825}]},
           "mark": "text", "encoding": {"x": {"field": "px", "type": "quantitative", "scale": {"domain": [0, 1.05]}}, "y": {"field": "py", "type": "quantitative", "scale": {"domain": [0, 1500]}}, "text": {"field": "t"}}}
        ]},
        {"width": 389, "height": 287, "layer": [
          {"data": {"name": "e"}, "mark": "bar", "encoding": {
            "x": {"field": "x", "type": "quantitative", "bin": {"binned": true, "step": 0.01}, "scale": {"domain": [0, 1.05]}, "axis": {"values": [0, 0.2, 0.4, 0.6, 0.8, 1], "format": ".1f", "title": null}},
            "y": {"field": "n", "type": "quantitative", "scale": {"domain": [0, 1000]}, "axis": {"values": [0, 200, 400, 600, 800, 1000], "format": "d", "title": null}}}},
          {"data": {"values": [
            {"t": "(e) LSIs of slope units for Ruijin extracted", "px": 0.084, "py": 924},
            {"t": "from Ganzhou East using SVM model", "px": 0.197, "py": 803},
            {"t": "Mean:", "px": 0.581, "py": 685}, {"t": "0.273", "px": 0.77, "py": 685},
            {"t": "SD:", "px": 0.581, "py": 567}, {"t": "0.219", "px": 0.77, "py": 567}]},
           "mark": "text", "encoding": {"x": {"field": "px", "type": "quantitative", "scale": {"domain": [0, 1.05]}}, "y": {"field": "py", "type": "quantitative", "scale": {"domain": [0, 1000]}}, "text": {"field": "t"}}}
        ]},
        {"width": 390, "height": 287, "layer": [
          {"data": {"name": "f"}, "mark": "bar", "encoding": {
            "x": {"field": "x", "type": "quantitative", "bin": {"binned": true, "step": 0.01}, "scale": {"domain": [0, 1.05]}, "axis": {"values": [0, 0.2, 0.4, 0.6, 0.8, 1], "format": ".1f", "title": null}},
            "y": {"field": "n", "type": "quantitative", "scale": {"domain": [0, 1000]}, "axis": {"values": [0, 200, 400, 600, 800, 1000], "format": "d", "title": null}}}},
          {"data": {"values": [
            {"t": "(f) LSIs of slope units for Ruijin City", "px": 0.175, "py": 924},
            {"t": "using SVM model", "px": 0.272, "py": 803},
            {"t": "Mean:", "px": 0.565, "py": 685}, {"t": "0.300", "px": 0.768, "py": 685},
            {"t": "SD:", "px": 0.565, "py": 567}, {"t": "0.282", "px": 0.768, "py": 567}]},
           "mark": "text", "encoding": {"x": {"field": "px", "type": "quantitative", "scale": {"domain": [0, 1.05]}}, "y": {"field": "py", "type": "quantitative", "scale": {"domain": [0, 1000]}}, "text": {"field": "t"}}}
        ]}
      ]
    },
    {
      "bounds": "flush", "spacing": 42,
      "hconcat": [
        {"width": 384, "height": 285, "layer": [
          {"data": {"name": "g"}, "mark": "bar", "encoding": {
            "x": {"field": "x", "type": "quantitative", "bin": {"binned": true, "step": 0.01}, "scale": {"domain": [0, 1]}, "axis": {"values": [0, 0.2, 0.4, 0.6, 0.8, 1], "format": ".1f", "title": null}},
            "y": {"field": "n", "type": "quantitative", "scale": {"domain": [0, 100000]}, "axis": {"values": [0, 20000, 40000, 60000, 80000, 100000], "format": "d", "title": "Count", "titleX": -40}}}},
          {"data": {"values": [
            {"t": "(g) LSIs of grid units (30m) for Ruijin", "px": 0.091, "py": 94000},
            {"t": "extracted from Ganzhou City", "px": 0.198, "py": 81600},
            {"t": "using RF model", "px": 0.198, "py": 69300},
            {"t": "Mean:", "px": 0.535, "py": 59000}, {"t": "0.368", "px": 0.715, "py": 59000},
            {"t": "SD:", "px": 0.535, "py": 47000}, {"t": "0.250", "px": 0.715, "py": 47000}]},
           "mark": "text", "encoding": {"x": {"field": "px", "type": "quantitative", "scale": {"domain": [0, 1]}}, "y": {"field": "py", "type": "quantitative", "scale": {"domain": [0, 100000]}}, "text": {"field": "t"}}}
        ]},
        {"width": 384, "height": 285, "layer": [
          {"data": {"name": "h"}, "mark": "bar", "encoding": {
            "x": {"field": "x", "type": "quantitative", "bin": {"binned": true, "step": 0.01}, "scale": {"domain": [0, 1]}, "axis": {"values": [0, 0.2, 0.4, 0.6, 0.8, 1], "format": ".1f", "title": null}},
            "y": {"field": "n", "type": "quantitative", "scale": {"domain": [0, 100000]}, "axis": {"values": [0, 20000, 40000, 60000, 80000, 100000], "format": "d", "title": null}}}},
          {"data": {"values": [
            {"t": "(h) LSIs of grid units (30m) for Ruijin", "px": 0.133, "py": 94000},
            {"t": "extracted from Ganzhou East", "px": 0.237, "py": 81600},
            {"t": "using RF model", "px": 0.237, "py": 69300},
            {"t": "Mean:", "px": 0.542, "py": 59000}, {"t": "0.325", "px": 0.721, "py": 59000},
            {"t": "SD:", "px": 0.542, "py": 47000}, {"t": "0.227", "px": 0.721, "py": 47000}]},
           "mark": "text", "encoding": {"x": {"field": "px", "type": "quantitative", "scale": {"domain": [0, 1]}}, "y": {"field": "py", "type": "quantitative", "scale": {"domain": [0, 100000]}}, "text": {"field": "t"}}}
        ]},
        {"width": 382, "height": 285, "layer": [
          {"data": {"name": "i"}, "mark": "bar", "encoding": {
            "x": {"field": "x", "type": "quantitative", "bin": {"binned": true, "step": 0.01}, "scale": {"domain": [0, 1]}, "axis": {"values": [0, 0.2, 0.4, 0.6, 0.8, 1], "format": ".1f", "title": null}},
            "y": {"field": "n", "type": "quantitative", "scale": {"domain": [0, 200000]}, "axis": {"values": [0, 50000, 100000, 150000, 200000], "format": "d", "title": null}}}},
          {"data": {"values": [
            {"t": "(i) LSIs of grid units (30m) for Ruijin", "px": 0.12, "py": 188000},
            {"t": "City using RF model", "px": 0.212, "py": 163400},
            {"t": "Mean:", "px": 0.508, "py": 119800}, {"t": "0.279", "px": 0.691, "py": 119800},
            {"t": "SD:", "px": 0.508, "py": 95000}, {"t": "0.273", "px": 0.691, "py": 95000}]},
           "mark": "text", "encoding": {"x": {"field": "px", "type": "quantitative", "scale": {"domain": [0, 1]}}, "y": {"field": "py", "type": "quantitative", "scale": {"domain": [0, 200000]}}, "text": {"field": "t"}}}
        ]}
      ]
    },
    {
      "bounds": "flush", "spacing": 42,
      "hconcat": [
        {"width": 386, "height": 286, "layer": [
          {"data": {"name": "j"}, "mark": "bar", "encoding": {
            "x": {"field": "x", "type": "quantitative", "bin": {"binned": true, "step": 0.01}, "scale": {"domain": [0, 1.05]}, "axis": {"values": [0, 0.2, 0.4, 0.6, 0.8, 1], "format": ".1f", "labelPadding": 4, "title": "Landslide susceptibility index", "titleFontSize": 20, "titleBaseline": "alphabetic", "titleY": 32}},
            "y": {"field": "n", "type": "quantitative", "scale": {"domain": [0, 100000]}, "axis": {"values": [0, 20000, 40000, 60000, 80000, 100000], "format": "d", "title": "Count", "titleX": -40}}}},
          {"data": {"values": [
            {"t": "(j) LSIs of grid units (30m) for Ruijin", "px": 0.096, "py": 95100},
            {"t": "extracted from Ganzhou City", "px": 0.207, "py": 82600},
            {"t": "using SVM model", "px": 0.207, "py": 70400},
            {"t": "Mean:", "px": 0.561, "py": 59900}, {"t": "0.361", "px": 0.751, "py": 59900},
            {"t": "SD:", "px": 0.561, "py": 47700}, {"t": "0.285", "px": 0.751, "py": 47700}]},
           "mark": "text", "encoding": {"x": {"field": "px", "type": "quantitative", "scale": {"domain": [0, 1.05]}}, "y": {"field": "py", "type": "quantitative", "scale": {"domain": [0, 100000]}}, "text": {"field": "t"}}}
        ]},
        {"width": 384, "height": 286, "layer": [
          {"data": {"name": "k"}, "mark": "bar", "encoding": {
            "x": {"field": "x", "type": "quantitative", "bin": {"binned": true, "step": 0.01}, "scale": {"domain": [0, 1.05]}, "axis": {"values": [0, 0.2, 0.4, 0.6, 0.8, 1], "format": ".1f", "labelPadding": 4, "title": "Landslide susceptibility index", "titleFontSize": 20, "titleBaseline": "alphabetic", "titleY": 32}},
            "y": {"field": "n", "type": "quantitative", "scale": {"domain": [0, 100000]}, "axis": {"values": [0, 20000, 40000, 60000, 80000, 100000], "format": "d", "title": null}}}},
          {"data": {"values": [
            {"t": "(k) LSIs of grid units (30m) for Ruijin", "px": 0.118, "py": 95400},
            {"t": "extracted from Ganzhou East", "px": 0.214, "py": 82700},
            {"t": "using SVM model", "px": 0.214, "py": 70400},
            {"t": "Mean:", "px": 0.565, "py": 59500}, {"t": "0.333", "px": 0.754, "py": 59500},
            {"t": "SD:", "px": 0.565, "py": 47500}, {"t": "0.275", "px": 0.754, "py": 47500}]},
           "mark": "text", "encoding": {"x": {"field": "px", "type": "quantitative", "scale": {"domain": [0, 1.05]}}, "y": {"field": "py", "type": "quantitative", "scale": {"domain": [0, 100000]}}, "text": {"field": "t"}}}
        ]},
        {"width": 382, "height": 286, "layer": [
          {"data": {"name": "l"}, "mark": "bar", "encoding": {
            "x": {"field": "x", "type": "quantitative", "bin": {"binned": true, "step": 0.01}, "scale": {"domain": [0, 1.02]}, "axis": {"values": [0, 0.2, 0.4, 0.6, 0.8, 1], "format": ".1f", "labelPadding": 4, "title": "Landslide susceptibility index", "titleFontSize": 20, "titleBaseline": "alphabetic", "titleY": 32, "titleX": 218}},
            "y": {"field": "n", "type": "quantitative", "scale": {"domain": [0, 200000]}, "axis": {"values": [0, 50000, 100000, 150000, 200000], "format": "d", "title": null}}}},
          {"data": {"values": [
            {"t": "(l) LSIs of grid units (30m) for Ruijin", "px": 0.122, "py": 190800},
            {"t": "City using SVM model", "px": 0.216, "py": 165400},
            {"t": "Mean:", "px": 0.52, "py": 119000}, {"t": "0.280", "px": 0.718, "py": 119000},
            {"t": "SD:", "px": 0.52, "py": 95000}, {"t": "0.272", "px": 0.718, "py": 95000}]},
           "mark": "text", "encoding": {"x": {"field": "px", "type": "quantitative", "scale": {"domain": [0, 1.02]}}, "y": {"field": "py", "type": "quantitative", "scale": {"domain": [0, 200000]}}, "text": {"field": "t"}}}
        ]}
      ]
    }
  ]
}
